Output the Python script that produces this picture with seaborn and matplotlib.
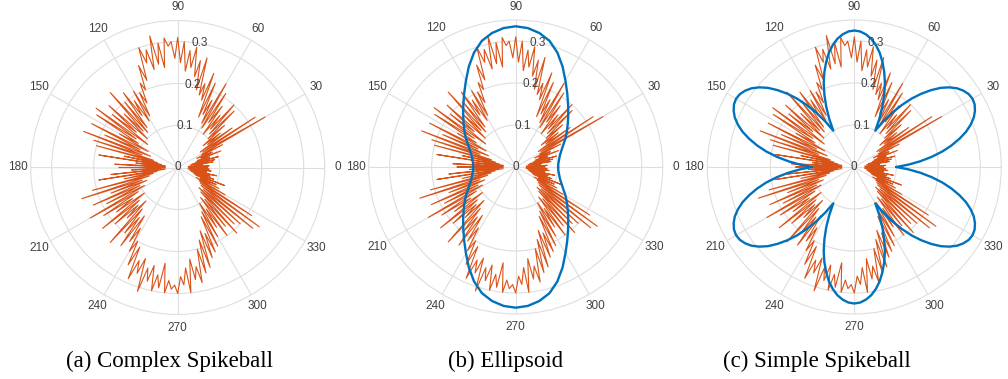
import numpy as np
import pandas as pd
import matplotlib
matplotlib.use("Agg")
import matplotlib.pyplot as plt
import seaborn as sns

# ---------------- data ----------------
# measured radii (orange), one value every 1.5 degrees starting at 0 deg
measured_r = [
    0.07, 0.03, 0.075, 0.025, 0.06, 0.04, 0.085, 0.03, 0.09, 0.035,
    0.10, 0.045, 0.08, 0.05, 0.11, 0.06, 0.09, 0.05, 0.12, 0.065,
    0.24, 0.07, 0.22, 0.065, 0.16, 0.09, 0.13, 0.08, 0.15, 0.10,
    0.19, 0.11, 0.20, 0.12, 0.16, 0.10, 0.18, 0.13, 0.21, 0.11,
    0.23, 0.12, 0.18, 0.14, 0.22, 0.13, 0.24, 0.17, 0.21, 0.18,
    0.27, 0.19, 0.26, 0.22, 0.29, 0.24, 0.28, 0.23, 0.30, 0.25,
    0.31, 0.26, 0.30, 0.29, 0.31, 0.24, 0.30, 0.25, 0.32, 0.24,
    0.29, 0.26, 0.30, 0.22, 0.26, 0.20, 0.22, 0.17, 0.20, 0.14,
    0.21, 0.13, 0.19, 0.15, 0.22, 0.12, 0.20, 0.11, 0.24, 0.12,
    0.18, 0.10, 0.22, 0.13, 0.20, 0.09, 0.24, 0.12, 0.23, 0.11,
    0.16, 0.08, 0.23, 0.10, 0.19, 0.07, 0.24, 0.09, 0.21, 0.06,
    0.20, 0.05, 0.13, 0.04, 0.19, 0.03, 0.10, 0.03, 0.15, 0.03,
    0.14, 0.03, 0.11, 0.04, 0.16, 0.03, 0.19, 0.05, 0.13, 0.06,
    0.21, 0.07, 0.24, 0.09, 0.17, 0.08, 0.22, 0.10, 0.19, 0.09,
    0.24, 0.11, 0.21, 0.13, 0.18, 0.10, 0.23, 0.12, 0.20, 0.13,
    0.17, 0.11, 0.24, 0.13, 0.20, 0.15, 0.23, 0.14, 0.21, 0.17,
    0.23, 0.20, 0.26, 0.21, 0.29, 0.24, 0.27, 0.23, 0.31, 0.25,
    0.28, 0.24, 0.30, 0.26, 0.29, 0.23, 0.30, 0.27, 0.29, 0.28,
    0.30, 0.26, 0.28, 0.24, 0.30, 0.22, 0.27, 0.24, 0.28, 0.20,
    0.26, 0.18, 0.25, 0.16, 0.23, 0.17, 0.22, 0.13, 0.21, 0.12,
    0.19, 0.10, 0.17, 0.12, 0.20, 0.09, 0.18, 0.10, 0.21, 0.08,
    0.19, 0.07, 0.20, 0.08, 0.23, 0.07, 0.24, 0.065, 0.21, 0.06,
    0.13, 0.05, 0.11, 0.06, 0.10, 0.045, 0.12, 0.04, 0.09, 0.035,
    0.08, 0.03, 0.095, 0.035, 0.07, 0.025, 0.08, 0.03, 0.075, 0.025,
]
measured_step_deg = 1.5

# fitted ellipsoid radii (blue, panel b), one value every 5 degrees, 0..360
ellipsoid_r = [
    0.101, 0.102, 0.105, 0.109, 0.116, 0.125, 0.137, 0.149, 0.162, 0.177,
    0.194, 0.214, 0.237, 0.264, 0.290, 0.311, 0.324, 0.332, 0.335,
    0.332, 0.324, 0.311, 0.290, 0.264, 0.237, 0.214, 0.194, 0.177, 0.162,
    0.149, 0.137, 0.125, 0.116, 0.109, 0.105, 0.102, 0.101,
    0.102, 0.105, 0.109, 0.116, 0.125, 0.137, 0.149, 0.162, 0.177, 0.194,
    0.214, 0.237, 0.264, 0.290, 0.311, 0.324, 0.332, 0.335,
    0.332, 0.324, 0.311, 0.290, 0.264, 0.237, 0.214, 0.194, 0.177, 0.162,
    0.149, 0.137, 0.125, 0.116, 0.109, 0.105, 0.102, 0.101,
]
ellipsoid_step_deg = 5

# fitted simple spikeball radii (blue, panel c), one value every 2.5 degrees, 0..360
spikeball_r = [
    0.100, 0.129, 0.158, 0.186, 0.213, 0.237, 0.259, 0.279, 0.295, 0.308, 0.317, 0.323,
    0.325, 0.323, 0.317, 0.308, 0.295, 0.279, 0.259, 0.237, 0.213, 0.186, 0.158, 0.129,
    0.100, 0.129, 0.158, 0.186, 0.213, 0.237, 0.259, 0.279, 0.295, 0.308, 0.317, 0.323,
    0.325, 0.323, 0.317, 0.308, 0.295, 0.279, 0.259, 0.237, 0.213, 0.186, 0.158, 0.129,
    0.100, 0.129, 0.158, 0.186, 0.213, 0.237, 0.259, 0.279, 0.295, 0.308, 0.317, 0.323,
    0.325, 0.323, 0.317, 0.308, 0.295, 0.279, 0.259, 0.237, 0.213, 0.186, 0.158, 0.129,
    0.100, 0.129, 0.158, 0.186, 0.213, 0.237, 0.259, 0.279, 0.295, 0.308, 0.317, 0.323,
    0.325, 0.323, 0.317, 0.308, 0.295, 0.279, 0.259, 0.237, 0.213, 0.186, 0.158, 0.129,
    0.100, 0.129, 0.158, 0.186, 0.213, 0.237, 0.259, 0.279, 0.295, 0.308, 0.317, 0.323,
    0.325, 0.323, 0.317, 0.308, 0.295, 0.279, 0.259, 0.237, 0.213, 0.186, 0.158, 0.129,
    0.100, 0.129, 0.158, 0.186, 0.213, 0.237, 0.259, 0.279, 0.295, 0.308, 0.317, 0.323,
    0.325, 0.323, 0.317, 0.308, 0.295, 0.279, 0.259, 0.237, 0.213, 0.186, 0.158, 0.129,
    0.100,
]
spikeball_step_deg = 2.5

theta_ticks = list(range(0, 360, 30))
theta_labels = [str(t) for t in theta_ticks]
r_ticks = [0.0, 0.1, 0.2, 0.3]
r_labels = ["0", "0.1", "0.2", "0.3"]
r_max = 0.35
captions = ["(a) Complex Spikeball", "(b) Ellipsoid", "(c) Simple Spikeball"]

# ---------------- style ----------------
sns.set_theme(style="white")
plt.rcParams["font.family"] = ["Liberation Sans", "DejaVu Sans"]

ORANGE = "#D95319"
BLUE = "#0072BD"
GRID = "#dedede"
TXT = "#404040"

W, H = 1008, 379
fig = plt.figure(figsize=(W / 100, H / 100), dpi=100)

R_PX = 147
centers = [(177.7, 167.5), (515.7, 167.0), (854.3, 167.0)]
caption_x = [170, 506, 817]

# closed measured curve
m_theta = np.deg2rad(np.arange(len(measured_r) + 1) * measured_step_deg)
m_r = measured_r + measured_r[:1]
measured_df = pd.DataFrame({"theta": m_theta, "r": m_r})

fits = [
    None,
    pd.DataFrame({"theta": np.deg2rad(np.arange(len(ellipsoid_r)) * ellipsoid_step_deg),
                  "r": ellipsoid_r}),
    pd.DataFrame({"theta": np.deg2rad(np.arange(len(spikeball_r)) * spikeball_step_deg),
                  "r": spikeball_r}),
]

for k, (cx, cy) in enumerate(centers):
    left = (cx - R_PX) / W
    bottom = (H - cy - R_PX) / H
    ax = fig.add_axes([left, bottom, 2 * R_PX / W, 2 * R_PX / H], projection="polar")
    ax.set_facecolor("white")

    sns.lineplot(data=measured_df, x="theta", y="r", sort=False, estimator=None,
                 color=ORANGE, linewidth=0.8, ax=ax, zorder=3)
    if fits[k] is not None:
        sns.lineplot(data=fits[k], x="theta", y="r", sort=False, estimator=None,
                     color=BLUE, linewidth=1.7, ax=ax, zorder=4)

    ax.set_xlabel("")
    ax.set_ylabel("")
    ax.set_ylim(0, r_max)
    ax.set_thetagrids(theta_ticks, labels=theta_labels)
    ax.set_yticks(r_ticks[1:])
    ax.set_yticklabels([])
    ax.grid(True, color=GRID, linewidth=0.8)
    ax.spines["polar"].set_color(GRID)
    ax.spines["polar"].set_linewidth(0.8)
    ax.tick_params(axis="x", pad=-3.5, labelsize=8.5, labelcolor=TXT)
    for rv, rs in zip(r_ticks, r_labels):
        ax.text(np.deg2rad(80), rv, rs, ha="center", va="center",
                fontsize=8.5, color=TXT, zorder=5)

    fig.text(caption_x[k] / W, (H - 366.7) / H, captions[k], ha="center",
             va="baseline", fontsize=16.5, family=["Liberation Serif", "DejaVu Serif"],
             color="black")

fig.savefig("out.png", dpi=100, facecolor="white")
